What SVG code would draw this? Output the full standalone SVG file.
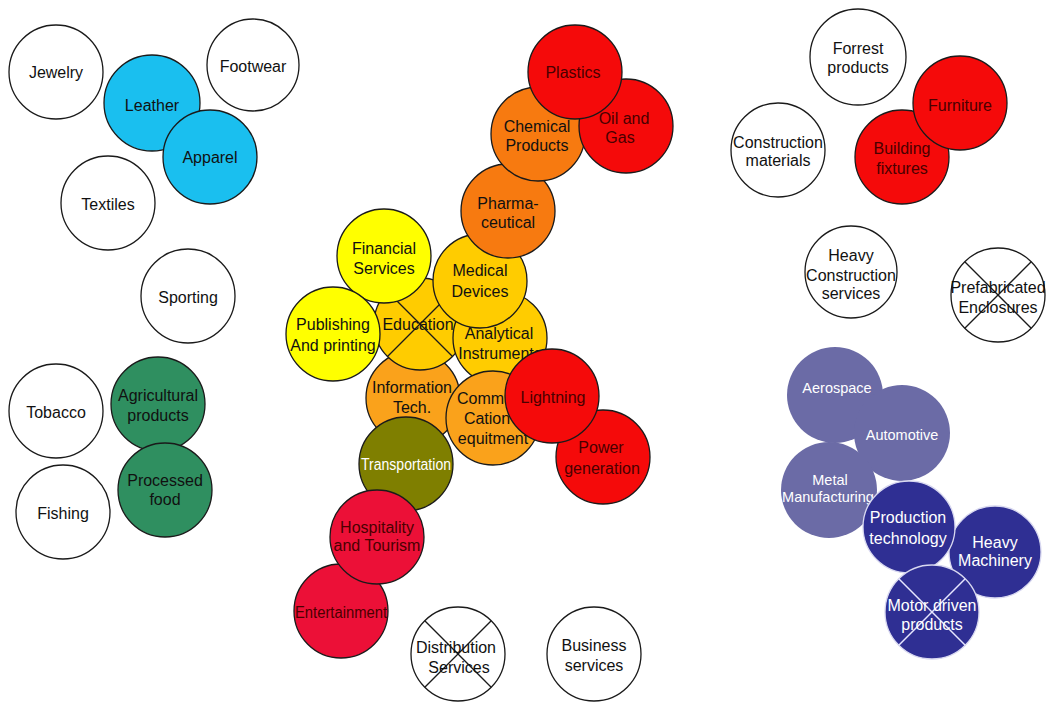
<svg xmlns="http://www.w3.org/2000/svg" width="1047" height="706" viewBox="0 0 1047 706">
<style>
text{font-family:"Liberation Sans",Arial,sans-serif;font-size:16px;text-anchor:middle;fill:#111}
circle{stroke:#1a1a1a;stroke-width:1.3}
.w{fill:#fff}
.cy{fill:#1abfef}
.gr{fill:#2f8f60}
.ye{fill:#ffff00}
.go{fill:#ffcc00}
.ol{fill:#faa21b}
.or{fill:#f77a10}
.rd{fill:#f50a0a}
.cr{fill:#ec1037}
.ov{fill:#7f7f00}
.lv{fill:#6b6ba6;stroke:none}
.nv{fill:#2f2f93;stroke:#d8d8f0;stroke-width:1.3}
.rt{fill:#4a0000}
.wt{fill:#fff}
.sm{font-size:14.5px}
.x{stroke:#1a1a1a;stroke-width:1.3;fill:none}
.xw{stroke:#e6e6ff;stroke-width:1.5;fill:none}
</style>
<rect width="1047" height="706" fill="#fff"/>
<g id="connectors"/>

<g id="jewelry"><circle class="w" cx="56" cy="72" r="47"/><text x="56" y="78">Jewelry</text></g>
<g id="footwear"><circle class="w" cx="253" cy="65" r="46"/><text x="253" y="72">Footwear</text></g>
<g id="leather"><circle class="cy" cx="152" cy="103" r="48"/><text x="152" y="111">Leather</text></g>
<g id="apparel"><circle class="cy" cx="210" cy="157" r="47"/><text x="210" y="163">Apparel</text></g>
<g id="textiles"><circle class="w" cx="108" cy="203" r="47"/><text x="108" y="210">Textiles</text></g>
<g id="sporting"><circle class="w" cx="188" cy="296" r="47"/><text x="188" y="303">Sporting</text></g>
<g id="tobacco"><circle class="w" cx="56" cy="411" r="47"/><text x="56" y="418">Tobacco</text></g>
<g id="agricultural"><circle class="gr" cx="158" cy="404" r="47"/><text x="158" y="401">Agricultural</text><text x="158" y="421">products</text></g>
<g id="processed-food"><circle class="gr" cx="165" cy="490" r="47"/><text x="165" y="486">Processed</text><text x="165" y="505">food</text></g>
<g id="fishing"><circle class="w" cx="63" cy="512" r="47"/><text x="63" y="519">Fishing</text></g>

<g id="information-tech"><circle class="ol" cx="413" cy="398" r="47"/><text x="412" y="393">Information</text><text x="412" y="413">Tech.</text></g>
<g id="education"><circle class="go" cx="420" cy="324" r="46"/><line class="x" x1="387.5" y1="291.5" x2="452.5" y2="356.5"/><line class="x" x1="452.5" y1="291.5" x2="387.5" y2="356.5"/><text x="418" y="330">Education</text></g>
<g id="analytical-instruments"><circle class="go" cx="500" cy="338" r="47"/><text x="499" y="339">Analytical</text><text x="500" y="359">Instruments</text></g>
<g id="communication-equipment"><circle class="ol" cx="493" cy="418" r="47"/><text x="457" y="404" style="text-anchor:start">Commu-</text><text x="487" y="424">Cation</text><text x="493" y="444">equitment</text></g>
<g id="medical-devices"><circle class="go" cx="480" cy="281" r="47"/><text x="480" y="276">Medical</text><text x="480" y="297">Devices</text></g>
<g id="pharmaceutical"><circle class="or" cx="508" cy="211" r="47"/><text x="508" y="209">Pharma-</text><text x="508" y="228">ceutical</text></g>
<g id="chemical-products"><circle class="or" cx="538" cy="134" r="47"/><text x="537" y="132">Chemical</text><text x="537" y="151">Products</text></g>
<g id="oil-and-gas"><circle class="rd" cx="626" cy="126" r="47"/><text class="rt" x="624" y="124">Oil and</text><text class="rt" x="620" y="143">Gas</text></g>
<g id="plastics"><circle class="rd" cx="575" cy="72" r="47"/><text class="rt" x="573" y="78">Plastics</text></g>
<g id="financial-services"><circle class="ye" cx="384" cy="256" r="47"/><text x="384" y="254">Financial</text><text x="384" y="274">Services</text></g>
<g id="publishing"><circle class="ye" cx="333" cy="334" r="47"/><text x="333" y="330">Publishing</text><text x="333" y="351">And printing</text></g>
<g id="power-generation"><circle class="rd" cx="603" cy="457" r="47"/><text class="rt" x="601" y="453">Power</text><text class="rt" x="602" y="474">generation</text></g>
<g id="lightning"><circle class="rd" cx="552" cy="396" r="47"/><text class="rt" x="553" y="403">Lightning</text></g>
<g id="transportation"><circle class="ov" cx="406" cy="464" r="47"/><text class="wt" x="406" y="470" textLength="90" lengthAdjust="spacingAndGlyphs">Transportation</text></g>
<g id="entertainment"><circle class="cr" cx="341" cy="611" r="47"/><text class="rt" x="341" y="618" textLength="92" lengthAdjust="spacingAndGlyphs">Entertainment</text></g>
<g id="hospitality"><circle class="cr" cx="377" cy="537" r="47"/><text class="rt" x="377" y="533">Hospitality</text><text class="rt" x="377" y="551">and Tourism</text></g>
<g id="distribution-services"><circle class="w" cx="458" cy="654" r="47"/><line class="x" x1="424.8" y1="620.8" x2="491.2" y2="687.2"/><line class="x" x1="491.2" y1="620.8" x2="424.8" y2="687.2"/><text x="456" y="653">Distribution</text><text x="459" y="673">Services</text></g>
<g id="business-services"><circle class="w" cx="594" cy="654" r="47"/><text x="594" y="651">Business</text><text x="594" y="671">services</text></g>

<g id="forrest-products"><circle class="w" cx="858" cy="57" r="48"/><text x="858" y="54">Forrest</text><text x="858" y="73">products</text></g>
<g id="construction-materials"><circle class="w" cx="778" cy="150" r="47"/><text x="778" y="148">Construction</text><text x="778" y="166">materials</text></g>
<g id="building-fixtures"><circle class="rd" cx="902" cy="157" r="47"/><text class="rt" x="902" y="154">Building</text><text class="rt" x="902" y="174">fixtures</text></g>
<g id="furniture"><circle class="rd" cx="960" cy="103" r="47"/><text class="rt" x="960" y="111">Furniture</text></g>
<g id="heavy-construction"><circle class="w" cx="851" cy="272" r="46"/><text x="851" y="261">Heavy</text><text x="851" y="281">Construction</text><text x="851" y="299">services</text></g>
<g id="prefabricated-enclosures"><circle class="w" cx="998" cy="295" r="47"/><line class="x" x1="964.8" y1="261.8" x2="1031.2" y2="328.2"/><line class="x" x1="1031.2" y1="261.8" x2="964.8" y2="328.2"/><text x="998" y="293">Prefabricated</text><text x="998" y="313">Enclosures</text></g>

<g id="aerospace"><circle class="lv" cx="835" cy="395" r="48"/><text class="wt sm" x="837" y="393">Aerospace</text></g>
<g id="automotive"><circle class="lv" cx="902" cy="433" r="48"/><text class="wt sm" x="902" y="440">Automotive</text></g>
<g id="metal-manufacturing"><circle class="lv" cx="829" cy="490" r="48"/><text class="wt sm" x="830" y="485">Metal</text><text class="wt sm" x="828" y="502">Manufacturing</text></g>
<g id="heavy-machinery"><circle class="nv" cx="995" cy="552" r="46"/><text class="wt" x="995" y="548">Heavy</text><text class="wt" x="995" y="566">Machinery</text></g>
<g id="production-technology"><circle class="nv" cx="909" cy="527" r="46"/><text class="wt" x="908" y="523">Production</text><text class="wt" x="908" y="544">technology</text></g>
<g id="motor-driven-products"><circle class="nv" cx="932" cy="612" r="47"/><line class="xw" x1="898.8" y1="578.8" x2="965.2" y2="645.2"/><line class="xw" x1="965.2" y1="578.8" x2="898.8" y2="645.2"/><text class="wt" x="932" y="611">Motor driven</text><text class="wt" x="932" y="630">products</text></g>
</svg>
